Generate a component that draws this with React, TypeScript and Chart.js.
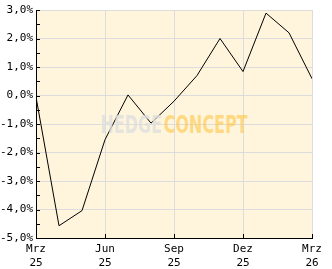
import React, { useEffect, useRef } from "react";
import { Chart, registerables } from "chart.js";

Chart.register(...registerables);

// Monthly points, Mrz 25 .. Mrz 26
const months = ["Mrz 25", "Apr 25", "Mai 25", "Jun 25", "Jul 25", "Aug 25", "Sep 25", "Okt 25", "Nov 25", "Dez 25", "Jan 26", "Feb 26", "Mrz 26"];
const values = [-0.05, -4.57, -4.04, -1.55, 0.02, -0.97, -0.2, 0.7, 2.0, 0.84, 2.89, 2.2, 0.59];
// x-axis tick labels, one per quarter
const quarterLabels = [["Mrz", "25"], ["Jun", "25"], ["Sep", "25"], ["Dez", "25"], ["Mrz", "26"]];
const yMin = -5;
const yMax = 3;
const watermarkA = "HEDGE";
const watermarkB = "CONCEPT";

const FONT = "'DejaVu Sans Mono', monospace";

const bgPlugin = {
  id: "bgPlugin",
  beforeDraw(chart: any) {
    const { ctx, chartArea: a } = chart;
    ctx.save();
    ctx.fillStyle = "#FEF5DC";
    ctx.fillRect(a.left, a.top, a.right - a.left, a.bottom - a.top);
    ctx.restore();
  },
  afterDraw(chart: any) {
    const { ctx, chartArea: a } = chart;
    const xs = chart.scales.x;
    const ys = chart.scales.y;
    ctx.save();
    ctx.strokeStyle = "#000";
    ctx.lineWidth = 1;
    ctx.beginPath();
    for (let v = yMin; v <= yMax + 1e-9; v += 0.5) {
      const y = Math.round(ys.getPixelForValue(v)) + 0.5;
      ctx.moveTo(a.left, y);
      ctx.lineTo(a.left + 4, y);
    }
    for (let i = 0; i < quarterLabels.length; i++) {
      const x = Math.round(xs.getPixelForValue(i * 3)) + 0.5;
      ctx.moveTo(x, a.bottom);
      ctx.lineTo(x, a.bottom - 4);
    }
    ctx.stroke();
    ctx.restore();
  },
  afterDatasetsDraw(chart: any) {
    const { ctx, chartArea: a } = chart;
    ctx.save();
    ctx.font = "bold 25px 'Liberation Sans Narrow', 'DejaVu Sans Condensed', sans-serif";
    ctx.textBaseline = "alphabetic";
    const gap = 2;
    const wA = ctx.measureText(watermarkA).width;
    const wB = ctx.measureText(watermarkB).width;
    const asc = ctx.measureText("H").actualBoundingBoxAscent || 18;
    const total = wA + gap + wB;
    const target = 147;
    const sx = target / total;
    const sy = 18 / asc;
    const cx = (a.left + a.right) / 2;
    const cy = (a.top + a.bottom) / 2;
    ctx.translate(cx - target / 2, cy + 9);
    ctx.scale(sx, sy);
    ctx.fillStyle = "rgba(222,222,222,0.8)";
    ctx.fillText(watermarkA, 0, 0);
    ctx.fillStyle = "rgba(255,196,70,0.6)";
    ctx.fillText(watermarkB, wA + gap, 0);
    ctx.restore();
  },
};

export default function App() {
  const ref = useRef<HTMLCanvasElement>(null);
  useEffect(() => {
    document.body.style.margin = "0";
    const chart = new Chart(ref.current!, {
      type: "line",
      data: {
        datasets: [
          {
            data: values.map((v, i) => ({ x: i, y: v })),
            borderColor: "#000",
            borderWidth: 1,
            pointRadius: 0,
            tension: 0,
            fill: false,
          },
        ],
      },
      options: {
        animation: false,
        responsive: false,
        devicePixelRatio: 1,
        layout: { padding: { top: 10, right: 20, left: 0, bottom: 0 } },
        plugins: { legend: { display: false }, tooltip: { enabled: false } },
        scales: {
          x: {
            type: "linear",
            min: 0,
            max: months.length - 1,
            afterFit: (s: any) => { s.height = 31; },
            afterBuildTicks: (s: any) => {
              s.ticks = quarterLabels.map((_, i) => ({ value: i * 3 }));
            },
            ticks: {
              autoSkip: false,
              maxRotation: 0,
              padding: 5,
              color: "#000",
              font: { family: FONT, size: 11, lineHeight: 1.2 },
              callback: (v: any) => quarterLabels[Math.round(Number(v) / 3)] as any,
            },
            grid: { color: "#DCDCDC", drawTicks: false },
            border: { color: "#000", width: 1 },
          },
          y: {
            min: yMin,
            max: yMax,
            afterFit: (s: any) => { s.width = 36; },
            ticks: {
              stepSize: 1,
              padding: 3,
              color: "#000",
              font: { family: FONT, size: 11 },
              callback: (v: any) => Number(v).toFixed(1).replace(".", ",").replace("-0,0", "0,0") + "%",
            },
            grid: { color: "#DCDCDC", drawTicks: false },
            border: { color: "#000", width: 1 },
          },
        },
      },
      plugins: [bgPlugin],
    } as any);
    return () => chart.destroy();
  }, []);
  return <canvas ref={ref} width={332} height={269} style={{ display: "block" }} />;
}
